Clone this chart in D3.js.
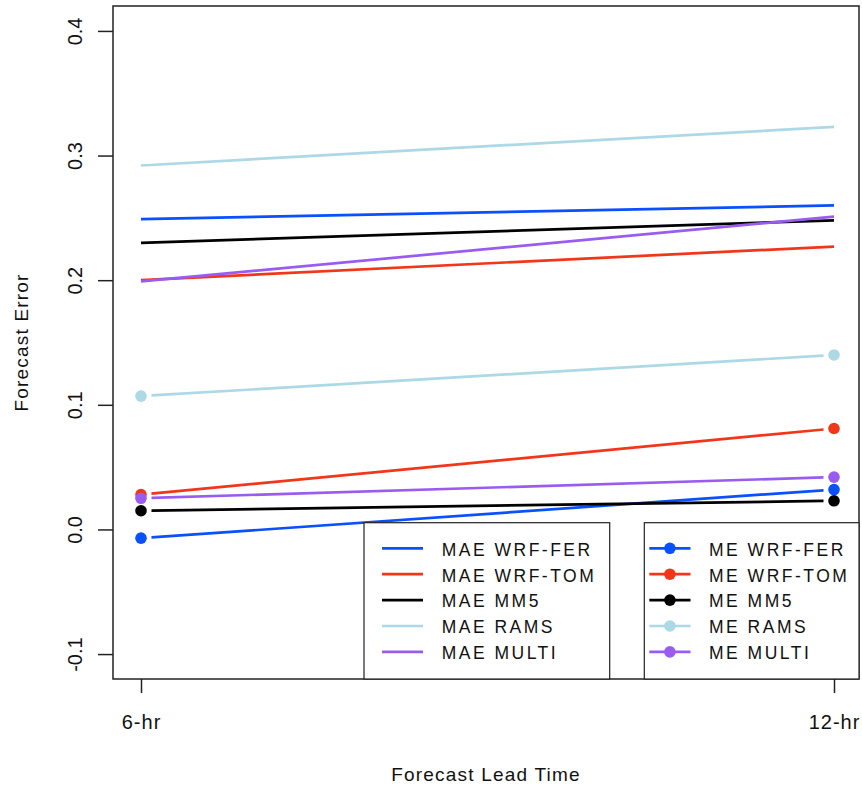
<!DOCTYPE html>
<html>
<head>
<meta charset="utf-8">
<script src="https://cdn.jsdelivr.net/npm/d3@7"></script>
<style>
  html, body { margin: 0; padding: 0; background: #ffffff; }
  svg { display: block; font-family: "Liberation Sans", Arial, Helvetica, sans-serif; }
</style>
</head>
<body>
<svg id="chart" width="862" height="786"></svg>
<script>
// Forecast lead times and error values per model
const leadTimes = ["6-hr", "12-hr"];
const models = ["WRF-FER", "WRF-TOM", "MM5", "RAMS", "MULTI"];
const modelColors = ["#0a50ff", "#f2361a", "#000000", "#add8e6", "#9a5cf0"];

// Mean absolute error per model (6-hr, 12-hr)
const maeFER   = [0.249, 0.260];
const maeTOM   = [0.200, 0.227];
const maeMM5   = [0.230, 0.248];
const maeRAMS  = [0.292, 0.323];
const maeMULTI = [0.199, 0.251];

// Mean error per model (6-hr, 12-hr)
const meFER   = [-0.007, 0.032];
const meTOM   = [0.028, 0.081];
const meMM5   = [0.015, 0.023];
const meRAMS  = [0.107, 0.140];
const meMULTI = [0.025, 0.042];

const yTicks = [-0.1, 0.0, 0.1, 0.2, 0.3, 0.4];
const yTickLabels = ["-0.1", "0.0", "0.1", "0.2", "0.3", "0.4"];

const maeSeries = [maeFER, maeTOM, maeMM5, maeRAMS, maeMULTI];
const meSeries  = [meFER, meTOM, meMM5, meRAMS, meMULTI];

const svg = d3.select("#chart");
const box = { left: 113, right: 859, top: 6, bottom: 679 };

const x = d3.scaleLinear().domain([0, 1]).range([141, 834]);
const y = d3.scaleLinear().domain([-0.12, 0.42]).range([box.bottom, box.top]);

const lw = 2.7;
const textColor = "#111";

// MAE: plain lines
maeSeries.forEach((vals, i) => {
  svg.append("line")
    .attr("x1", x(0)).attr("y1", y(vals[0]))
    .attr("x2", x(1)).attr("y2", y(vals[1]))
    .attr("stroke", modelColors[i]).attr("stroke-width", lw);
});

// ME: points joined by lines that stop short of each point
const gap = 10.5;
meSeries.forEach((vals, i) => {
  const x0 = x(0), y0 = y(vals[0]), x1 = x(1), y1 = y(vals[1]);
  const len = Math.hypot(x1 - x0, y1 - y0);
  const ux = (x1 - x0) / len, uy = (y1 - y0) / len;
  svg.append("line")
    .attr("x1", x0 + ux * gap).attr("y1", y0 + uy * gap)
    .attr("x2", x1 - ux * gap).attr("y2", y1 - uy * gap)
    .attr("stroke", modelColors[i]).attr("stroke-width", lw);
  vals.forEach((v, j) => {
    svg.append("circle")
      .attr("cx", x(j)).attr("cy", y(v)).attr("r", 5.8)
      .attr("fill", modelColors[i]);
  });
});

// Y axis with rotated labels
const yAxis = svg.append("g")
  .attr("transform", `translate(${box.left},0)`)
  .call(d3.axisLeft(y).tickValues(yTicks).tickSize(15)
    .tickFormat((d, i) => yTickLabels[i]));
yAxis.select(".domain").remove();
yAxis.selectAll(".tick line").attr("stroke", "#222").attr("stroke-width", 1.5);
yAxis.selectAll(".tick text")
  .attr("transform", "rotate(-90)")
  .attr("x", 0).attr("y", -31).attr("dy", 0)
  .attr("text-anchor", "middle")
  .attr("fill", textColor)
  .style("font-size", "20px")
  .style("font-family", "'Liberation Sans', Arial, sans-serif");

// X axis
const xAxis = svg.append("g")
  .attr("transform", `translate(0,${box.bottom})`)
  .call(d3.axisBottom(x).tickValues([0, 1]).tickSize(14).tickFormat((d, i) => leadTimes[i]));
xAxis.select(".domain").remove();
xAxis.selectAll(".tick line").attr("stroke", "#222").attr("stroke-width", 1.5);
xAxis.selectAll(".tick text")
  .attr("y", 50).attr("dy", 0)
  .attr("fill", textColor)
  .style("font-size", "20px")
  .style("letter-spacing", "1px")
  .style("font-family", "'Liberation Sans', Arial, sans-serif");

// Plot frame
svg.append("rect")
  .attr("x", box.left).attr("y", box.top)
  .attr("width", box.right - box.left).attr("height", box.bottom - box.top)
  .attr("fill", "none").attr("stroke", "#222").attr("stroke-width", 1.5);

// Axis titles
svg.append("text")
  .attr("x", (box.left + box.right) / 2).attr("y", 781)
  .attr("text-anchor", "middle").attr("fill", textColor)
  .style("font-size", "19px").style("letter-spacing", "1.2px")
  .text("Forecast Lead Time");

svg.append("text")
  .attr("transform", `translate(28,${(box.top + box.bottom) / 2}) rotate(-90)`)
  .attr("text-anchor", "middle").attr("fill", textColor)
  .style("font-size", "19px").style("letter-spacing", "1.2px")
  .text("Forecast Error");

// Legends
function legend(x0, x1, labels, withPoints, lineX0, lineX1, textX) {
  const g = svg.append("g");
  g.append("rect")
    .attr("x", x0).attr("y", 522.7)
    .attr("width", x1 - x0).attr("height", box.bottom - 522.7)
    .attr("fill", "#fff").attr("stroke", "#222").attr("stroke-width", 1.2);
  labels.forEach((lab, i) => {
    const ry = 548.3 + i * 25.9;
    g.append("line")
      .attr("x1", lineX0).attr("x2", lineX1).attr("y1", ry).attr("y2", ry)
      .attr("stroke", modelColors[i]).attr("stroke-width", lw);
    if (withPoints) {
      g.append("circle").attr("cx", (lineX0 + lineX1) / 2).attr("cy", ry)
        .attr("r", 5.8).attr("fill", modelColors[i]);
    }
    g.append("text")
      .attr("x", textX).attr("y", ry + 7.3)
      .attr("fill", textColor)
      .style("font-size", "17.5px").style("letter-spacing", "2.5px")
      .text(lab);
  });
}
legend(364, 609.7, models.map(m => "MAE " + m), false, 382, 423, 441.7);
legend(644.3, box.right, models.map(m => "ME " + m), true, 649.3, 690.5, 709);
</script>
</body>
</html>
